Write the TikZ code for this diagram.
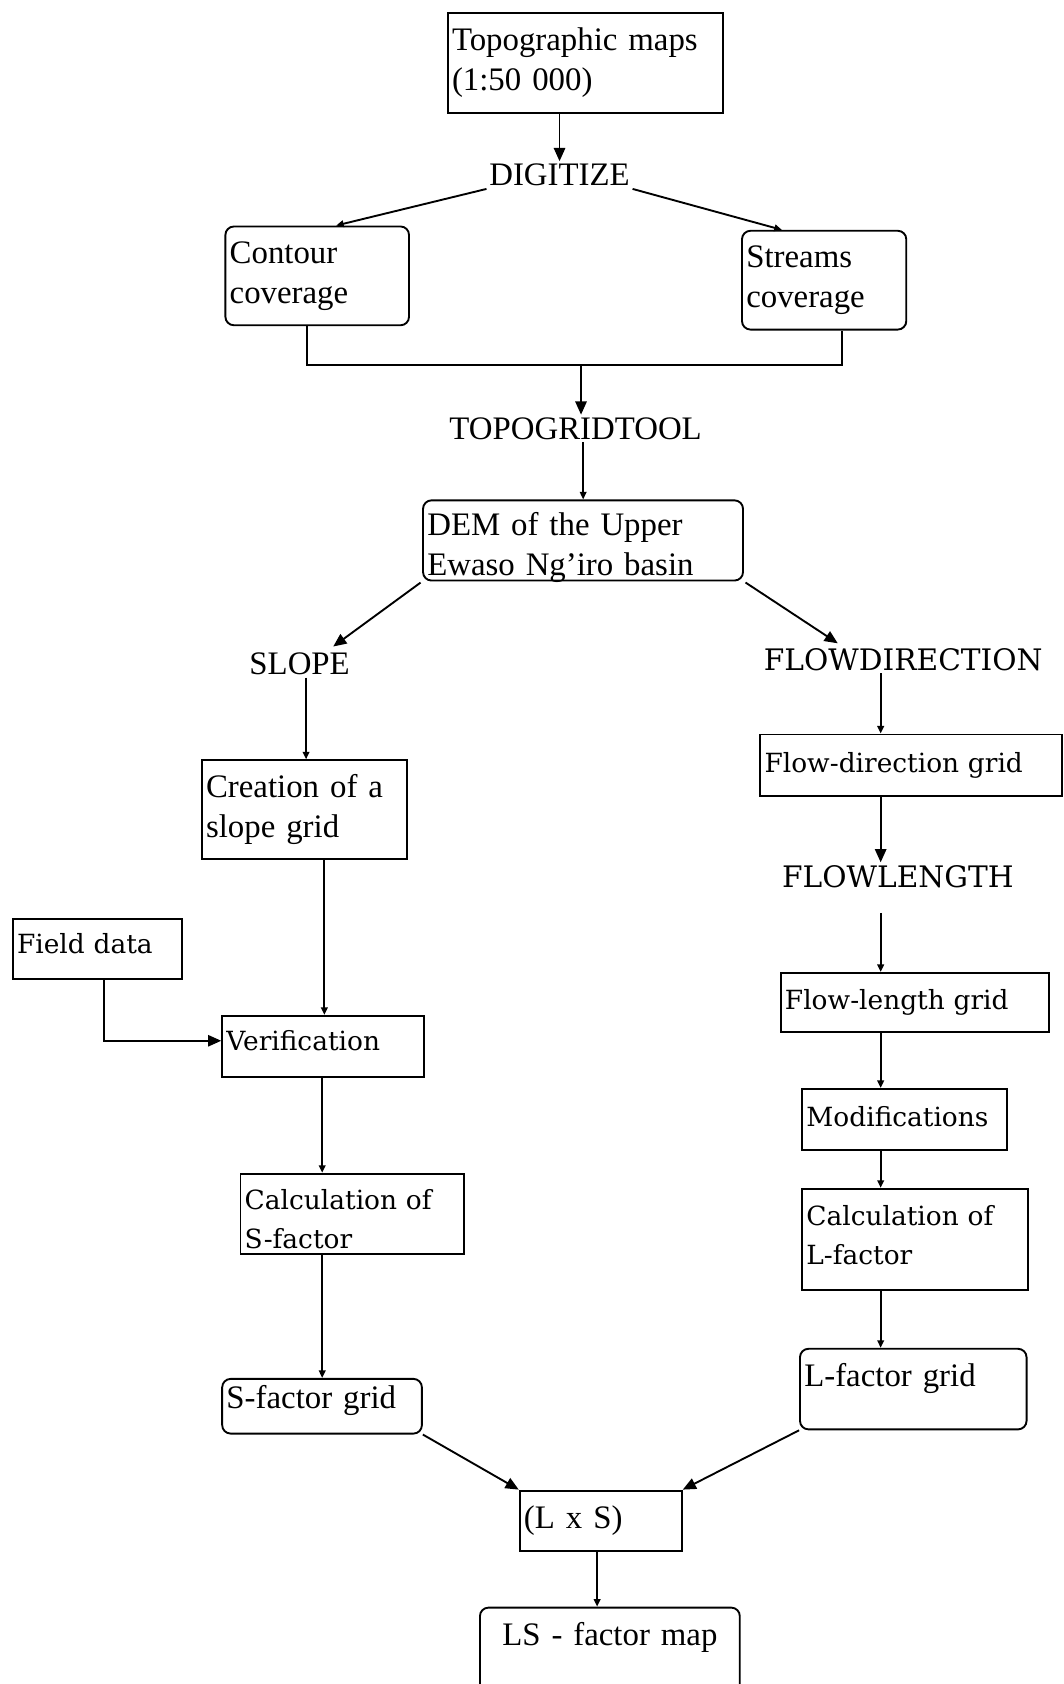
\documentclass[tikz,border=0pt]{standalone}
\usepackage{fontspec}
\setmainfont{Liberation Serif}
\newfontfamily\widefont{DejaVu Serif}
\usetikzlibrary{arrows.meta}
\newcommand{\tnrtext}{\fontsize{17.4}{21}\selectfont}
\newcommand{\widetext}{\widefont\fontsize{14}{20.4}\selectfont}
\newcommand{\widecaps}{\widefont\fontsize{15.7}{19}\selectfont}
\begin{document}
\begin{tikzpicture}[x=0.02cm, y=-0.02cm, line width=1pt,
  box/.style={draw, anchor=north west, inner xsep=0.08cm, inner ysep=2pt, align=left, font=\tnrtext},
  rbox/.style={box, rounded corners=4.5pt},
  wide/.style={font=\widetext},
  lbl/.style={inner sep=1pt, font=\tnrtext},
  widelbl/.style={inner sep=1pt, font=\widecaps},
  big/.style={-{Triangle[length=7pt,width=6pt]}},
  small/.style={-{Triangle[length=4pt,width=3.5pt]}},
]
\clip (0,0) rectangle (990,1568);
\fill[white] (0,0) rectangle (990,1568);

% boxes and labels
\node[box, text width=4.96cm, minimum height=1.86cm] (topo) at (416,11) {Topographic maps\\(1:50 000)};
\node[lbl] (digitize) at (521,163) {DIGITIZE};
\node[rbox, text width=3.26cm, minimum height=1.84cm] (contour) at (209,210) {Contour\\coverage};
\node[rbox, text width=2.90cm, minimum height=1.84cm] (streams) at (690,214) {Streams\\coverage};
\node[lbl] (topogrid) at (536,399) {TOPOGRIDTOOL};
\node[rbox, text width=5.80cm, text height=16.7pt, text depth=21.8pt] (dem) at (393,465) {DEM of the Upper\\Ewaso Ng’iro basin};
\node[lbl] (slope) at (279,618) {SLOPE};
\node[widelbl] (flowdir) at (841,614) {FLOWDIRECTION};
\node[box, text width=3.66cm, minimum height=1.84cm] (slopegrid) at (187,707) {Creation of a\\slope grid};
\node[box, wide, text width=5.46cm, minimum height=1.14cm] (fdgrid) at (707,683) {Flow-direction grid};
\node[widelbl] (flowlength) at (836,816) {FLOWLENGTH};
\node[box, wide, text width=3.00cm, text height=16.3pt, text depth=11.6pt] (field) at (11,855) {Field data};
\node[box, wide, text width=3.60cm, text height=16.5pt, text depth=11.9pt] (verif) at (206,945) {Verification};
\node[box, wide, text width=4.84cm, minimum height=1.10cm] (flgrid) at (726,905) {Flow-length grid};
\node[box, wide, text width=3.66cm, text height=17.7pt, text depth=10.7pt] (modif) at (746,1013) {Modifications};
\node[box, wide, text width=4.00cm, text height=17.2pt, text depth=21.5pt] (calcS) at (223,1092) {Calculation of\\S-factor};
\node[box, wide, text width=4.04cm, text height=17.5pt, text depth=32pt] (calcL) at (746,1106) {Calculation of\\L-factor};
\node[rbox, text width=3.56cm, text height=13.7pt, text depth=11.3pt] (sgrid) at (206,1283) {S-factor grid};
\node[rbox, text width=4.06cm, text height=18pt, text depth=20.7pt] (lgrid) at (744,1255) {L-factor grid};
\node[box, text width=2.86cm, minimum height=1.12cm] (lxs) at (483,1387) {(L x S)};
\node[rbox, align=center, text width=4.68cm, text height=18pt, text depth=31.5pt] (ls) at (446,1496) {LS - factor map};

% helper points
\coordinate (colL) at (300,0);
\coordinate (colR) at (820,0);
\coordinate (join) at (541,340);
\coordinate (flout) at (820,850);

% connectors
\draw[big] (digitize.north |- topo.south) -- (digitize.north);
\draw[small] (digitize.south west) -- (contour.north -| 313,0);
\draw[small] (digitize.south east) -- (streams.north -| 728,0);
\draw (contour.south -| 286,0) |- (join) -| (streams.south -| 784,0);
\draw[big] (join) -- (join |- topogrid.north);
\draw[small] (topogrid.south -| 543,0) -- (dem.north -| 543,0);
\draw[big, shorten <=1pt, shorten >=3pt] (dem.south west) -- (slope.north -| 306,0);
\draw[big, shorten <=1pt, shorten >=2pt] (dem.south east) -- (flowdir.north -| 783,0);
\draw[small] (slope.south -| 285,0) -- (slopegrid.north -| 285,0);
\draw[small] (flowdir.south -| colR) -- (fdgrid.north -| colR);
\draw[big] (fdgrid.south -| colR) -- (flowlength.north -| colR);
\draw[small] (flout) -- (flgrid.north -| flout);
\draw[small] (flgrid.south -| colR) -- (modif.north -| colR);
\draw[small] (modif.south -| colR) -- (calcL.north -| colR);
\draw[small] (calcL.south -| colR) -- (lgrid.north -| colR);
\draw[small] (slopegrid.south -| 302,0) -- (verif.north -| 302,0);
\draw[big] (field.south -| 97,0) |- ([yshift=3pt]verif.west);
\draw[small] (verif.south -| colL) -- (calcS.north -| colL);
\draw[small] (calcS.south -| colL) -- (sgrid.north -| colL);
\draw[big] (sgrid.south east) -- (lxs.north west);
\draw[big] (lgrid.south west) -- (lxs.north east);
\draw[small] (lxs.south -| 556,0) -- (ls.north -| 556,0);
\end{tikzpicture}
\end{document}
